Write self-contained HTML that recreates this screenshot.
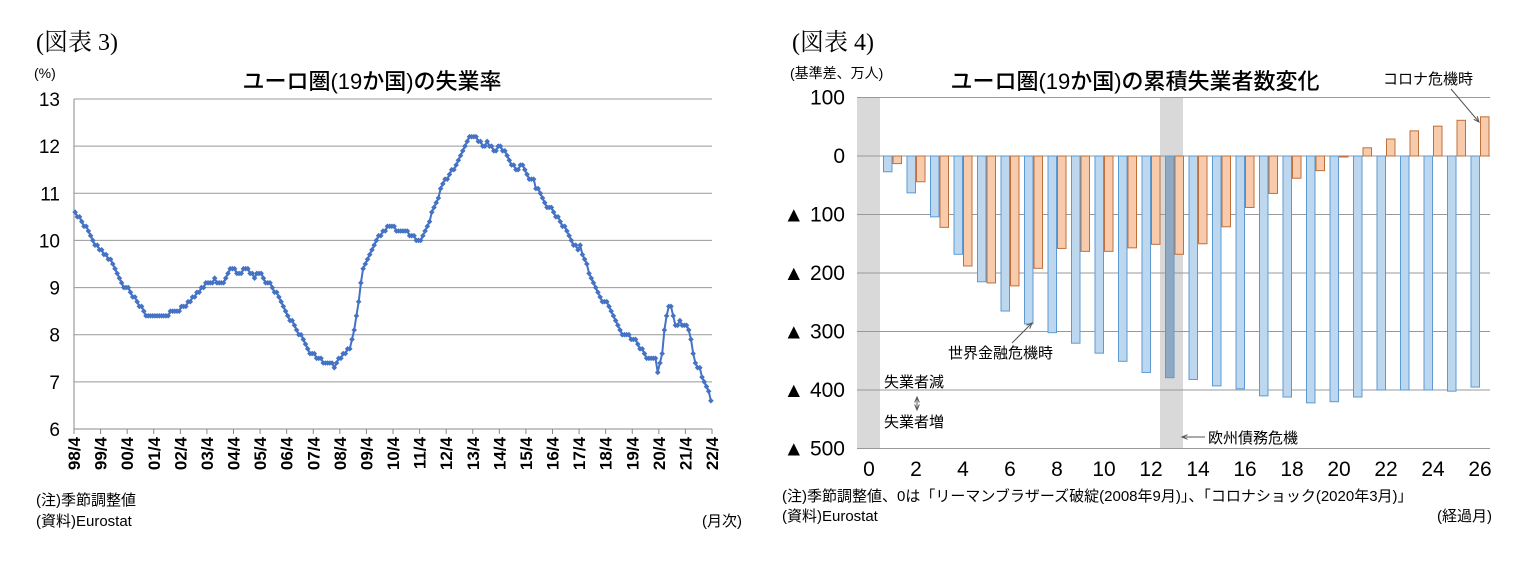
<!DOCTYPE html>
<html><head><meta charset="utf-8"><style>
body{margin:0;background:#fff;width:1522px;height:558px;overflow:hidden}
svg{font-family:"Liberation Sans","Noto Sans CJK JP",sans-serif}
</style></head><body>
<svg id="s" width="1522" height="558" xmlns="http://www.w3.org/2000/svg">
<text x="36" y="50" font-family="Liberation Serif,Noto Serif CJK SC,serif" font-size="24">(図表 3)</text>
<text x="34" y="78" font-size="14">(%)</text>
<text x="372" y="89" font-size="22" font-weight="500" text-anchor="middle">ユーロ圏(19か国)の失業率</text>
<text x="36" y="505" font-size="15">(注)季節調整値</text>
<text x="36" y="526" font-size="15">(資料)Eurostat</text>
<text x="742" y="526" font-size="15" text-anchor="end">(月次)</text>
<g id="L"></g>
<text x="792" y="50" font-family="Liberation Serif,Noto Serif CJK SC,serif" font-size="24">(図表 4)</text>
<text x="790" y="78" font-size="14">(基準差、万人)</text>
<text x="1135" y="89" font-size="22" font-weight="500" text-anchor="middle">ユーロ圏(19か国)の累積失業者数変化</text>
<text x="782" y="501" font-size="15">(注)季節調整値、0は「リーマンブラザーズ破綻(2008年9月)」、「コロナショック(2020年3月)」</text>
<text x="782" y="521" font-size="15">(資料)Eurostat</text>
<text x="1492" y="521" font-size="15" text-anchor="end">(経過月)</text>
<g id="R"></g>
</svg>
<script>
const rates=[
10.6,10.5,10.5,10.4,10.3,10.3,10.2,10.1,10.0,9.9,9.9,9.8,
9.8,9.7,9.7,9.6,9.6,9.5,9.4,9.3,9.2,9.1,9.0,9.0,
9.0,8.9,8.8,8.8,8.7,8.6,8.6,8.5,8.4,8.4,8.4,8.4,
8.4,8.4,8.4,8.4,8.4,8.4,8.4,8.5,8.5,8.5,8.5,8.5,
8.6,8.6,8.6,8.7,8.7,8.8,8.8,8.9,8.9,9.0,9.0,9.1,
9.1,9.1,9.1,9.2,9.1,9.1,9.1,9.1,9.2,9.3,9.4,9.4,
9.4,9.3,9.3,9.3,9.4,9.4,9.4,9.3,9.3,9.2,9.3,9.3,
9.3,9.2,9.1,9.1,9.1,9.0,8.9,8.9,8.8,8.7,8.6,8.5,
8.4,8.3,8.3,8.2,8.1,8.0,8.0,7.9,7.8,7.7,7.6,7.6,
7.6,7.5,7.5,7.5,7.4,7.4,7.4,7.4,7.4,7.3,7.4,7.5,
7.5,7.6,7.6,7.7,7.7,7.9,8.1,8.4,8.7,9.1,9.4,9.5,
9.6,9.7,9.8,9.9,10.0,10.1,10.1,10.2,10.2,10.3,10.3,10.3,
10.3,10.2,10.2,10.2,10.2,10.2,10.2,10.1,10.1,10.1,10.0,10.0,
10.0,10.1,10.2,10.3,10.4,10.6,10.7,10.8,10.9,11.1,11.2,11.3,
11.3,11.4,11.5,11.5,11.6,11.7,11.8,11.9,12.0,12.1,12.2,12.2,
12.2,12.2,12.1,12.1,12.0,12.0,12.1,12.0,12.0,11.9,11.9,12.0,
12.0,11.9,11.9,11.8,11.7,11.6,11.6,11.5,11.5,11.6,11.6,11.5,
11.4,11.3,11.3,11.3,11.1,11.1,11.0,10.9,10.8,10.7,10.7,10.7,
10.6,10.5,10.5,10.4,10.3,10.3,10.2,10.1,10.0,9.9,9.9,9.8,
9.9,9.7,9.6,9.5,9.3,9.2,9.1,9.0,8.9,8.8,8.7,8.7,
8.7,8.6,8.5,8.4,8.3,8.2,8.1,8.0,8.0,8.0,8.0,7.9,
7.9,7.9,7.8,7.7,7.7,7.6,7.5,7.5,7.5,7.5,7.5,7.2,
7.4,7.6,8.1,8.4,8.6,8.6,8.4,8.2,8.2,8.3,8.2,8.2,
8.2,8.1,7.9,7.6,7.4,7.3,7.3,7.1,7.0,6.9,6.8,6.6];
const xLabels=["98/4","99/4","00/4","01/4","02/4","03/4","04/4","05/4","06/4","07/4","08/4","09/4","10/4","11/4","12/4","13/4","14/4","15/4","16/4","17/4","18/4","19/4","20/4","21/4","22/4"];
const yTicksL=[6,7,8,9,10,11,12,13];
const months=[1,2,3,4,5,6,7,8,9,10,11,12,13,14,15,16,17,18,19,20,21,22,23,24,25,26];
const blueVals=[-27,-63,-104,-168,-215,-265,-287,-302,-320,-337,-351,-370,-379,-382,-393,-398,-410,-412,-422,-420,-412,-400,-400,-400,-402,-395];
const orangeVals=[-13,-44,-122,-188,-217,-222,-192,-158,-163,-163,-157,-151,-168,-150,-121,-88,-64,-38,-25,-1,14,29,43,51,61,67];
const yTicksR=[100,0,-100,-200,-300,-400,-500];
const xTicksR=[0,2,4,6,8,10,12,14,16,18,20,22,24,26];
const NS="http://www.w3.org/2000/svg";
function mk(p,t,a,txt){const e=document.createElementNS(NS,t);for(const k in a)e.setAttribute(k,a[k]);if(txt!==undefined)e.textContent=txt;p.appendChild(e);return e;}
// left
const L=document.getElementById('L');
const lx=i=>74+i*(712-74)/288, ly=v=>429-(v-6)*(330/7);
yTicksL.forEach(v=>{const g=mk(L,'line',{x1:74,x2:712,y1:ly(v),y2:ly(v),stroke:v==6?'#888':'#999','stroke-width':1});

const t=mk(L,'text',{x:60,y:ly(v)+7,'font-size':19,'text-anchor':'end'},String(v));
});
const ax=mk(L,'line',{x1:74,x2:74,y1:99,y2:429,stroke:'#888'});
xLabels.forEach((s,i)=>{const x=lx(i*12);const tk=mk(L,'line',{x1:x,x2:x,y1:429,y2:434,stroke:'#888'});

const t=mk(L,'text',{x:0,y:0,'font-size':17,'font-weight':'bold','text-anchor':'end',transform:`translate(${x+6},437) rotate(-90)`},s);
});
const pts=rates.map((v,i)=>lx(i+0.5).toFixed(1)+','+ly(v).toFixed(1)).join(' ');
const pl=mk(L,'polyline',{points:pts,fill:'none',stroke:'#4472c4','stroke-width':2});

rates.forEach((v,i)=>{const x=lx(i+0.5),y=ly(v);const m=mk(L,'path',{d:`M${x-2.8},${y}L${x},${y-2.8}L${x+2.8},${y}L${x},${y+2.8}Z`,fill:'#4472c4'});
});
// right
const R=document.getElementById('R');
const rx=m=>869+m*23.5, ry=v=>156-v*0.585;
const b1=mk(R,'rect',{x:857,y:97,width:23,height:351,fill:'#d9d9d9'});
const b2=mk(R,'rect',{x:1160,y:97,width:23,height:351,fill:'#d9d9d9'});
yTicksR.forEach(v=>{const g=mk(R,'line',{x1:857,x2:1490,y1:ry(v),y2:ry(v),stroke:'#999'});

const t=mk(R,'text',{x:845,y:ry(v)+7,'font-size':21,'text-anchor':'end'},v<0?'▲ '+(-v):String(v));
});
xTicksR.forEach(m=>{const t=mk(R,'text',{x:rx(m),y:476,'font-size':21,'text-anchor':'middle'},String(m));
});
months.forEach((m,i)=>{const w=8.5;
let v=blueVals[i];const b=mk(R,'rect',{x:rx(m)-w-0.5,y:Math.min(ry(v),ry(0)),width:w,height:Math.abs(ry(v)-ry(0)),fill:m==13?'#8ea9c1':'#bdd7ee',stroke:'#5b9bd5','stroke-width':1});

v=orangeVals[i];const o=mk(R,'rect',{x:rx(m)+0.5,y:Math.min(ry(v),ry(0)),width:w,height:Math.max(1,Math.abs(ry(v)-ry(0))),fill:'#f8cbad',stroke:'#c0703a','stroke-width':1});
});
function ann(x,y,s,n,a){const t=mk(R,'text',{x:x,y:y,'font-size':15,'text-anchor':a||'start'},s);}
ann(1383,84,'コロナ危機時','covid-annotation');
ann(948,358,'世界金融危機時','gfc-annotation');
ann(884,387,'失業者減','decrease-label');
ann(884,427,'失業者増','increase-label');
ann(1208,443,'欧州債務危機','euro-debt-annotation');
function arr(x1,y1,x2,y2,n){const l=mk(R,'line',{x1:x1,y1:y1,x2:x2,y2:y2,stroke:'#555','stroke-width':1});
const a=Math.atan2(y2-y1,x2-x1);const p=mk(R,'path',{d:`M${x2-6*Math.cos(a-0.4)},${y2-6*Math.sin(a-0.4)}L${x2},${y2}L${x2-6*Math.cos(a+0.4)},${y2-6*Math.sin(a+0.4)}`,fill:'none',stroke:'#555'});}
arr(1451,89,1479,122,'covid-arrow');
arr(1012,343,1032,323,'gfc-arrow');
arr(1205,437,1182,437,'euro-debt-arrow');
arr(917,397,917,410,'change-arrow-down');arr(917,410,917,397,'change-arrow-up');
</script>
</body></html>
